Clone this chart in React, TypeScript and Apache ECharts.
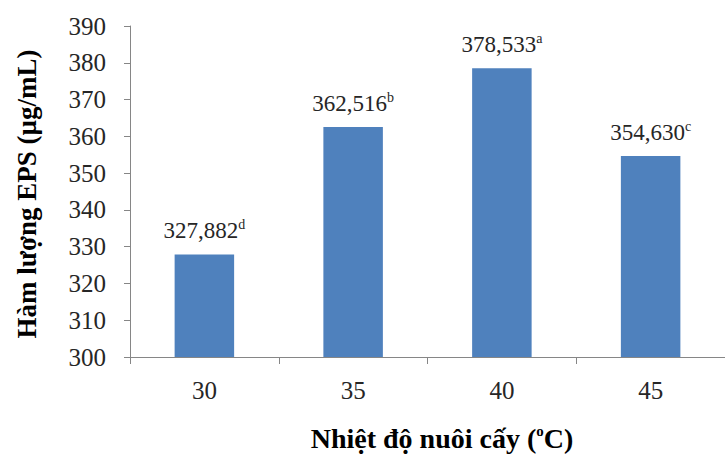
import React, { useEffect, useRef } from "react";
import * as echarts from "echarts";

const categories = ["30", "35", "40", "45"];
const values = [327.882, 362.516, 378.533, 354.63];
const letters = ["d", "b", "a", "c"];
const yTicks = { min: 300, max: 390, interval: 10 };

const FONT = "Liberation Serif";

export default function App() {
  const ref = useRef<HTMLDivElement>(null);
  useEffect(() => {
    if (!ref.current) return;
    const chart = echarts.init(ref.current, null, { renderer: "svg" });
    chart.setOption({
      animation: false,
      backgroundColor: "#ffffff",
      textStyle: { fontFamily: FONT },
      grid: { left: 130, top: 26, height: 331, width: 606, containLabel: false },
      xAxis: {
        type: "category",
        data: categories,
        axisLine: { show: true, lineStyle: { color: "#868686", width: 1 } },
        axisTick: { show: true, alignWithLabel: false, length: 7, lineStyle: { color: "#868686" } },
        axisLabel: { color: "#262626", fontSize: 25, fontFamily: FONT, margin: 21 },
        splitLine: { show: false },
      },
      yAxis: {
        type: "value",
        min: yTicks.min,
        max: yTicks.max,
        interval: yTicks.interval,
        axisLine: { show: true, lineStyle: { color: "#868686", width: 1 } },
        axisTick: { show: true, length: 6, lineStyle: { color: "#868686" } },
        axisLabel: { color: "#262626", fontSize: 25, fontFamily: FONT, margin: 24 },
        splitLine: { show: false },
      },
      series: [
        {
          type: "bar",
          data: values,
          barWidth: "40%",
          itemStyle: { color: "#4F81BD" },
          label: {
            show: true,
            position: "top",
            distance: 11,
            fontFamily: FONT,
            formatter: (p: any) =>
              `{v|${Number(p.value).toFixed(3).replace(".", ",")}}{s|${letters[p.dataIndex]}}`,
            rich: {
              v: { fontSize: 23, color: "#262626", fontFamily: FONT, lineHeight: 26 },
              s: { fontSize: 14, color: "#262626", fontFamily: FONT, verticalAlign: "top", lineHeight: 14 },
            },
          },
        },
      ],
      graphic: [
        {
          type: "text",
          x: 27,
          y: 194,
          rotation: Math.PI / 2,
          style: {
            text: "Hàm lượng EPS (µg/mL)",
            fontSize: 27,
            fontWeight: "bold",
            fontFamily: FONT,
            fill: "#000000",
            align: "center",
            verticalAlign: "middle",
          },
        },
        {
          type: "text",
          x: 442,
          y: 438,
          style: {
            text: "{t|Nhiệt độ nuôi cấy (}{s|o}{t|C)}",
            fontFamily: FONT,
            align: "center",
            verticalAlign: "middle",
            rich: {
              t: { fontSize: 28, fontWeight: "bold", fontFamily: FONT, fill: "#000000", lineHeight: 30 },
              s: { fontSize: 15, fontWeight: "bold", fontFamily: FONT, fill: "#000000", verticalAlign: "top", lineHeight: 15 },
            },
          },
        },
      ],
    });
    return () => chart.dispose();
  }, []);
  return <div ref={ref} style={{ width: 725, height: 456, position: "fixed", left: 0, top: 0 }} />;
}
